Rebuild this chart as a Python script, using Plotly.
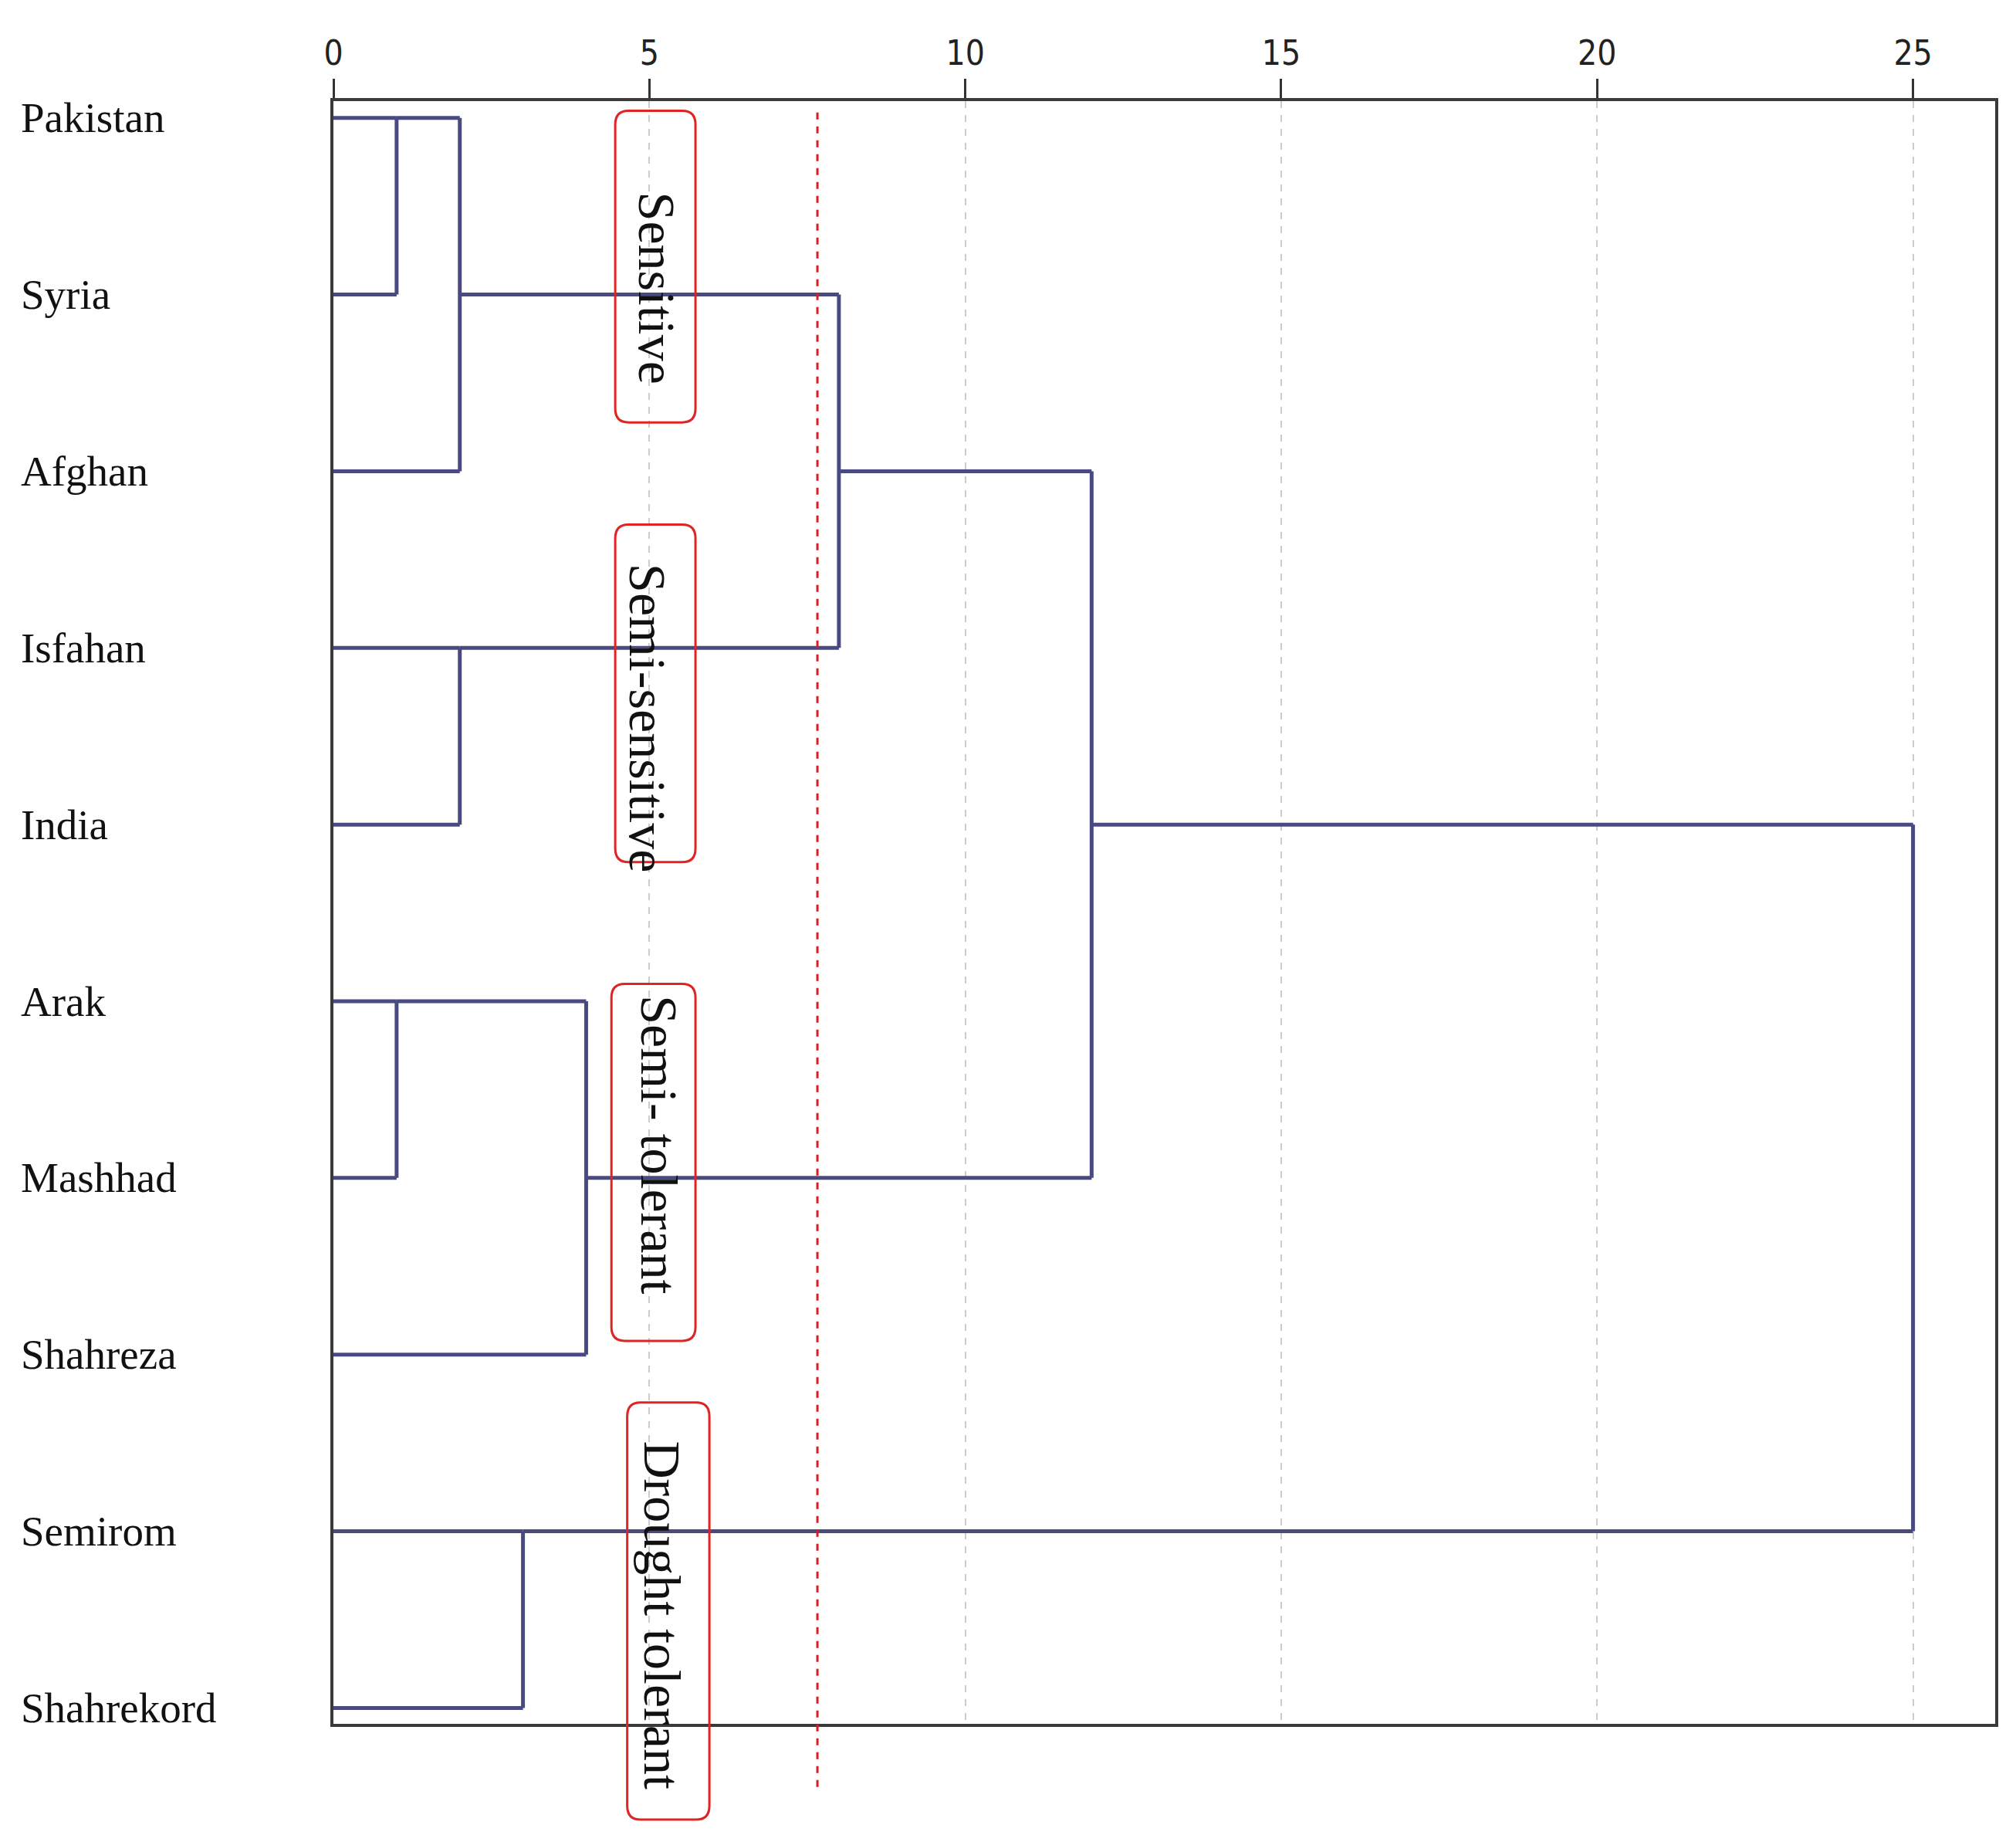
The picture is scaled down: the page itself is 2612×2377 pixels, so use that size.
import plotly.graph_objects as go
import math

# ---------------- data ----------------
countries = ["Pakistan", "Syria", "Afghan", "Isfahan", "India",
             "Arak", "Mashhad", "Shahreza", "Semirom", "Shahrekord"]
# linkage (scipy-like): new cluster ids start at len(countries)
merge_left = [0, 5, 10, 3, 8, 11, 12, 16, 17]
merge_right = [1, 6, 2, 4, 9, 7, 13, 15, 14]
merge_height = [1.0, 1.0, 2.0, 2.0, 3.0, 4.0, 8.0, 12.0, 25.0]
x_ticks = [0, 5, 10, 15, 20, 25]
cut_level = 7.66
group_labels = ["Sensitive", "Semi-sensitive", "Semi- tolerant", "Drought tolerant"]

# ---------------- build dendrogram segments (SPSS style) ----------------
n = len(countries)
rep = {i: i for i in range(n)}
hgt = {i: 0.0 for i in range(n)}
xs, ys = [], []
for k, (a, b, h) in enumerate(zip(merge_left, merge_right, merge_height)):
    for c in (a, b):
        xs += [hgt[c], h, None]
        ys += [rep[c], rep[c], None]
    xs += [h, h, None]
    ys += [rep[a], rep[b], None]
    nid = n + k
    rep[nid] = math.floor((rep[a] + rep[b]) / 2)
    hgt[nid] = h

fig = go.Figure()
fig.add_trace(go.Scatter(x=xs, y=ys, mode="lines",
                         line=dict(color="#4a4a82", width=5),
                         hoverinfo="skip", showlegend=False))

W, H = 2612, 2377
L, R, T, B = 424, 35, 123, 152
PW = W - L - R

fig.update_layout(
    width=W, height=H,
    margin=dict(l=L, r=R, t=T, b=B),
    paper_bgcolor="white", plot_bgcolor="white",
    showlegend=False,
    xaxis=dict(range=[0, 26.3], side="top", tickvals=x_ticks,
               ticks="outside", ticklen=25, tickwidth=3, tickcolor="#333",
               showline=True, linecolor="#3a3a3a", linewidth=4, mirror=True,
               showgrid=True, gridcolor="#cccccc", gridwidth=2, griddash="dash",
               zeroline=False,
               tickfont=dict(family="Liberation Sans Narrow, DejaVu Sans Condensed, Arial Narrow, sans-serif",
                             size=44, color="#222")),
    yaxis=dict(range=[9.09, -0.095], showticklabels=False, ticks="",
               showline=True, linecolor="#3a3a3a", linewidth=4, mirror=True,
               showgrid=False, zeroline=False),
)

# country labels, left aligned
for i, name in enumerate(countries):
    fig.add_annotation(x=(17 - L) / PW, xref="paper", xanchor="left",
                       y=i, yref="y", yanchor="middle",
                       text=name, showarrow=False,
                       font=dict(family="Liberation Serif, Times New Roman, serif",
                                 size=55, color="#111"))

# red dashed cut line
fig.add_shape(type="line", xref="x", yref="paper",
              x0=cut_level, x1=cut_level, y0=0.993, y1=-0.043,
              line=dict(color="#d42020", width=3, dash="dash"))

# rounded label boxes
def rounded(x0, x1, y0, y1, rx=0.21, ry=0.0085):
    return (f"M {x0+rx},{y1} L {x1-rx},{y1} Q {x1},{y1} {x1},{y1-ry} "
            f"L {x1},{y0+ry} Q {x1},{y0} {x1-rx},{y0} "
            f"L {x0+rx},{y0} Q {x0},{y0} {x0},{y0+ry} "
            f"L {x0},{y1-ry} Q {x0},{y1} {x0+rx},{y1} Z")

boxes = [(4.46, 5.73, 0.802, 0.994),
         (4.46, 5.73, 0.531, 0.739),
         (4.40, 5.73, 0.236, 0.456),
         (4.65, 5.95, -0.059, 0.198)]
text_pos = [(5.12, 0.885), (4.98, 0.620), (5.16, 0.357), (5.20, 0.067)]

for (x0, x1, y0, y1) in boxes:
    fig.add_shape(type="path", xref="x", yref="paper",
                  path=rounded(x0, x1, y0, y1),
                  line=dict(color="#e02424", width=3))

for lab, (tx, ty) in zip(group_labels, text_pos):
    fig.add_annotation(x=tx, xref="x", y=ty, yref="paper",
                       text=lab, showarrow=False, textangle=90,
                       xanchor="center", yanchor="middle",
                       font=dict(family="Liberation Serif, Times New Roman, serif",
                                 size=68, color="#111"))

fig.write_html("out.html")
